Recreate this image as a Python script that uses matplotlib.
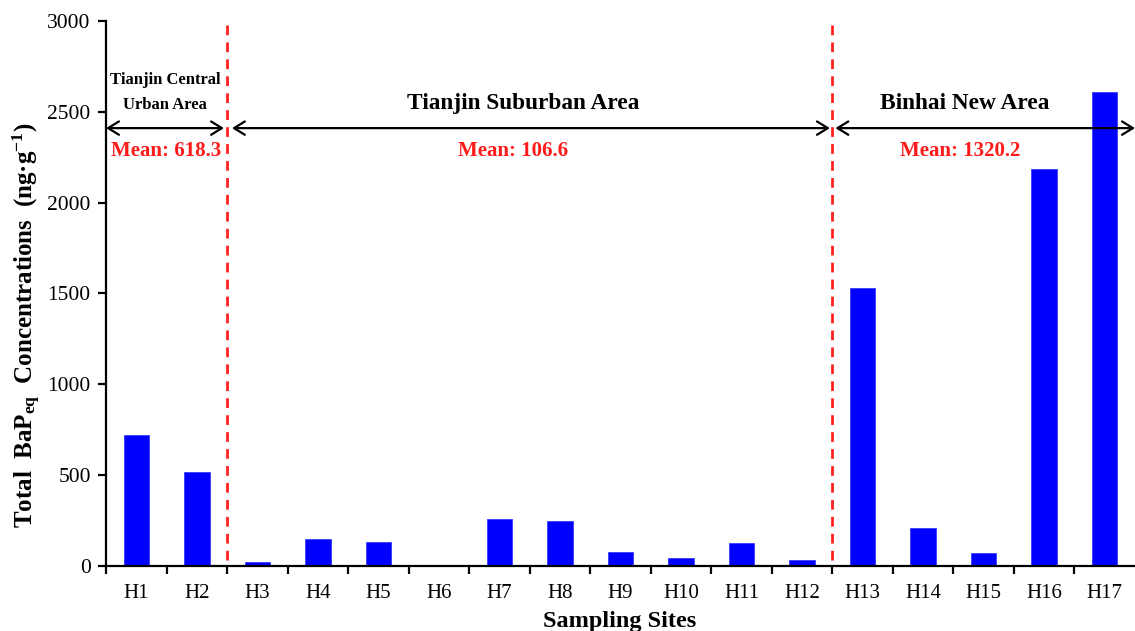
import matplotlib
matplotlib.use("Agg")
import matplotlib.pyplot as plt
import numpy as np

sites = ["H1", "H2", "H3", "H4", "H5", "H6", "H7", "H8", "H9", "H10",
         "H11", "H12", "H13", "H14", "H15", "H16", "H17"]
values = [720, 517, 20, 147, 132, 0, 255, 244, 76, 40,
          123, 30, 1527, 209, 70, 2184, 2610]

region_names = ["Tianjin Central\nUrban Area", "Tianjin Suburban Area", "Binhai New Area"]
region_means = ["Mean: 618.3", "Mean: 106.6", "Mean: 1320.2"]

plt.rcParams['font.family'] = ['Liberation Serif', 'DejaVu Serif']
plt.rcParams['mathtext.fontset'] = 'custom'
plt.rcParams['mathtext.rm'] = 'Liberation Serif:bold'
plt.rcParams['mathtext.bf'] = 'Liberation Serif:bold'
plt.rcParams['mathtext.it'] = 'Liberation Serif:bold'

fig = plt.figure(figsize=(11.35, 6.31), dpi=100)
ax = fig.add_axes([106/1135, 1 - 565.7/631, 1 - 106/1135, (565.7 - 21)/631])

x = np.arange(1, len(sites) + 1)
ax.bar(x, values, width=0.42, color='#0000ff', edgecolor='#3a3aff', linewidth=0.6, zorder=2)

ax.set_xlim(0.5, 17.5)
ax.set_ylim(0, 3000)
ax.set_yticks(np.arange(0, 3001, 500))
ax.set_xticks(x)
ax.set_xticklabels(sites)
ax.set_xticks(np.arange(0.5, 17.5, 1), minor=True)
ax.tick_params(axis='x', which='major', length=0, pad=13, labelsize=15)
ax.tick_params(axis='x', which='minor', length=6, width=1.6, direction='out')
ax.tick_params(axis='y', length=6, width=1.6, direction='out', pad=5, labelsize=15.5)

for s in ['top', 'right']:
    ax.spines[s].set_visible(False)
for s in ['left', 'bottom']:
    ax.spines[s].set_linewidth(1.6)

# boundaries
for b in [2.5, 12.5]:
    ax.plot([b, b], [30, 3000], color='#ff2020', lw=2, ls=(0, (3.5, 2.6)), zorder=3, clip_on=False)

# arrows
arrow_spans = [(0.5, 2.45), (2.58, 12.46), (12.55, 17.5)]
arrow_y = 2410
for (a, b) in arrow_spans:
    ax.annotate("", xy=(b, arrow_y), xytext=(a, arrow_y),
                arrowprops=dict(arrowstyle="<->,head_length=0.65,head_width=0.4",
                                color='black', lw=1.6, shrinkA=0, shrinkB=0,
                                mutation_scale=12),
                annotation_clip=False, zorder=4)

# region labels
ax.text(1.48, 2605, region_names[0], ha='center', va='center', fontsize=12,
        fontweight='bold', linespacing=1.75)
ax.text(7.40, 2547, region_names[1], ha='center', va='center', fontsize=16.8, fontweight='bold')
ax.text(14.68, 2547, region_names[2], ha='center', va='center', fontsize=16.8, fontweight='bold')

mean_x = [1.49, 7.23, 14.61]
for mx, mt in zip(mean_x, region_means):
    ax.text(mx, 2282, mt, ha='center', va='center', fontsize=15, fontweight='bold', color='#ff1a1a')

fig.text(27/1135, 1 - 325/631, r'Total  BaP$_{\mathbf{eq}}$  Concentrations  (ng·g$^{\mathbf{-1}}$)',
         rotation=90, ha='center', va='center', fontsize=18, fontweight='bold')
fig.text(620/1135, 1 - 621/631, 'Sampling Sites', ha='center', va='center',
         fontsize=17.5, fontweight='bold')

fig.savefig("out.png", dpi=100)
